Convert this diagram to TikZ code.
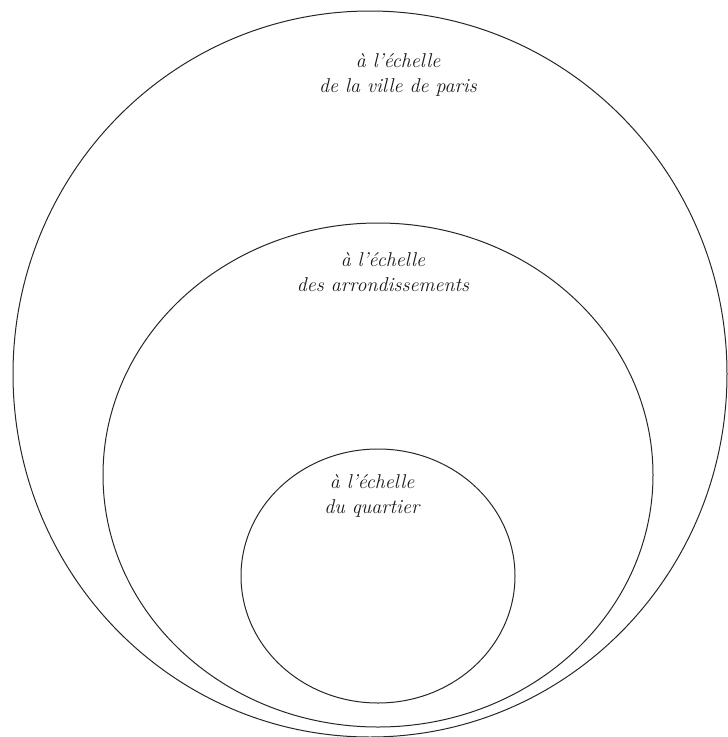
\documentclass[tikz,border=0pt]{standalone}
\usetikzlibrary{shapes.geometric}
\begin{document}
\begin{tikzpicture}[x=1pt,y=-1pt,
  ring/.style={draw=black!85,line width=1pt,ellipse,inner sep=0pt,outer sep=0pt},
  lbl/.style={align=center,font=\fontsize{20}{25}\selectfont\itshape,text=black!90,inner sep=0pt}]
\useasboundingbox (0,0) rectangle (728,737);
\node[ring,minimum width=714pt,minimum height=726pt] (ville) at (370,374) {};
\node[ring,minimum width=550pt,minimum height=504pt] (arr) at (378,475) {};
\node[ring,minimum width=274pt,minimum height=254pt] (quart) at (378,576) {};
\node[lbl] (t1) at (398,75) {à l'échelle\\de la ville de paris};
\node[lbl] (t2) at (383,272) {à l'échelle\\des arrondissements};
\node[lbl] (t3) at (372,496) {à l'échelle\\du quartier};
\end{tikzpicture}
\end{document}
